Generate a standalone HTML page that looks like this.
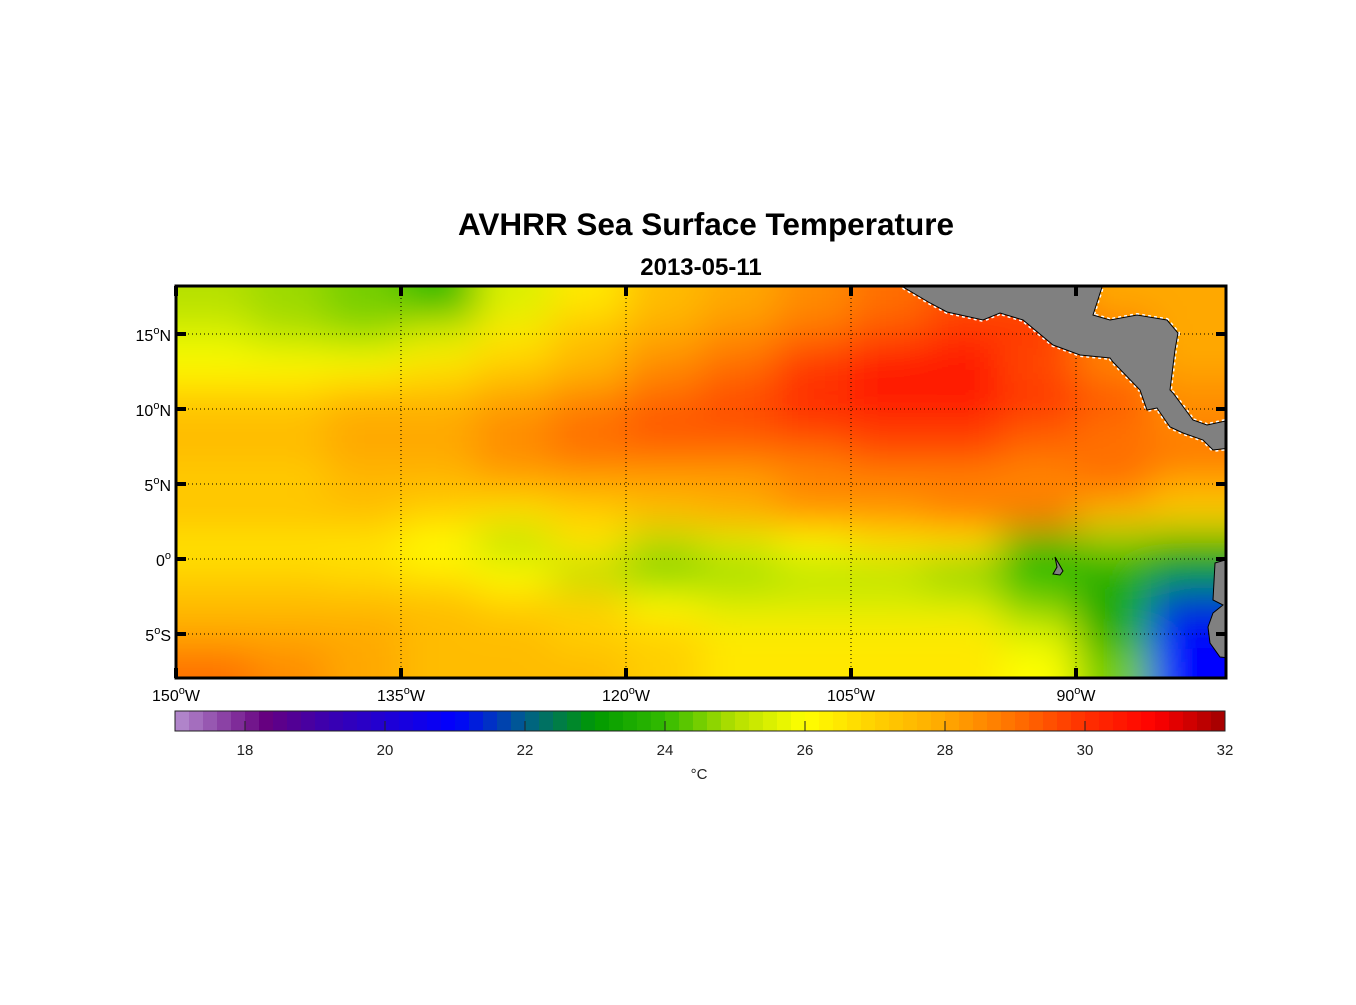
<!DOCTYPE html>
<html><head><meta charset="utf-8"><style>
body{margin:0;background:#fff;width:1356px;height:1000px;overflow:hidden;font-family:"Liberation Sans",sans-serif;}
svg text{font-family:"Liberation Sans",sans-serif;}
</style></head><body>
<svg id="chart" width="1356" height="1000" xmlns="http://www.w3.org/2000/svg">
<defs>
<clipPath id="mapclip"><rect x="176" y="287" width="1050" height="391"/></clipPath>
<filter id="blur" x="-0.1" y="-0.1" width="1.2" height="1.2"><feGaussianBlur stdDeviation="20"/></filter>
</defs>
<text x="706" y="235" text-anchor="middle" font-size="31.5" font-weight="bold">AVHRR Sea Surface Temperature</text>
<text x="701" y="275" text-anchor="middle" font-size="24" font-weight="bold">2013-05-11</text>
<g id="map" clip-path="url(#mapclip)">
<g id="heat" filter="url(#blur)"></g>
<g id="grid"></g>
<g fill="#808080" stroke="#000" stroke-width="1">
<path stroke="#fff" stroke-width="4" stroke-dasharray="3 3" d="M898,284 L930,303 L947,312 L983,320 L1000,313 L1023,320 L1053,345 L1080,355 L1110,358 L1113,362 L1140,390 L1147,410 L1157,408 L1170,427 L1183,433 L1203,440 L1213,450 L1230,448 L1230,420 L1207,425 L1193,420 L1173,393 L1170,390 L1175,350 L1178,333 L1167,320 L1137,315 L1110,320 L1093,315 L1103,284 Z"/>
<path d="M898,284 L930,303 L947,312 L983,320 L1000,313 L1023,320 L1053,345 L1080,355 L1110,358 L1113,362 L1140,390 L1147,410 L1157,408 L1170,427 L1183,433 L1203,440 L1213,450 L1230,448 L1230,420 L1207,425 L1193,420 L1173,393 L1170,390 L1175,350 L1178,333 L1167,320 L1137,315 L1110,320 L1093,315 L1103,284 Z"/>
<path d="M1230,558 L1225,560 L1215,563 L1213,600 L1223,605 L1213,613 L1208,627 L1210,643 L1220,657 L1230,658 Z"/>
<path d="M1055,557 L1063,571 L1060,575 L1053,574 L1057,567 Z"/>
</g>
</g>
<rect x="176" y="286" width="1050" height="392" fill="none" stroke="#000" stroke-width="3"/>
<g id="ticks"></g>
<g id="cbar"></g>
<text x="699" y="779" text-anchor="middle" font-size="15" fill="#222">°C</text>
</svg>
<script>
const lonCenters=[-147.5,-142.5,-137.5,-132.5,-127.5,-122.5,-117.5,-112.5,-107.5,-102.5,-97.5,-92.5,-87.5,-82.5];
const latCenters=[17,15,13,11,9,7,5,3,1,-1,-3,-5,-7];
const sstRows=[
[25,24.8,24.5,24,25.5,26.5,27.5,28,28.5,29,29.5,29.5,28,28],
[25.5,25,24.8,25.5,26.5,27.5,28,28.5,29,29.5,30,30,29,28],
[26,26,26,26.5,27,27.5,28.5,29,30,30.5,30.5,29.5,28.5,28],
[27,27,27.5,27.5,28,28.5,29,29.5,30,30.5,30.5,30,29.5,28.5],
[27.5,27.5,28,28,28.5,29,29.5,29.5,30,30,30,29.5,29,28.5],
[27.5,27.5,28,28,28.5,29,29,29,29,29.5,29.5,29,29,29],
[27,27,27.5,27.5,28,28,28,28,28.5,28.5,28.5,28.5,29,28],
[27.5,27.5,27.5,27,26.5,27,27.5,28,28.5,28.5,29,29,27.5,27],
[26.5,26.5,26.5,26,25,26.5,25,25.5,26,26.5,26.5,24,24.5,24],
[27,27,26.8,26.5,26,25,24.5,24.8,25,25,24.5,24,23.5,23],
[27.5,27.5,27.5,27.5,27,27,26,25.5,25.5,25.5,25.5,24.5,23.5,21.5],
[28,28,28,27.5,27.5,27,27,26.5,26.5,26.5,26.5,25.5,23.5,21],
[29,28.5,28,27.5,27.5,27.5,27,26.5,26.5,26.5,26.5,26,24.5,21]
];
const lonTicks=[-150,-135,-120,-105,-90];
const lonTickLabels=["150","135","120","105","90"];
const latTicks=[15,10,5,0,-5];
const latTickLabels=["15","10","5","0","5"];
const latTickSuffix=["N","N","N","","S"];
const cbarTicks=[18,20,22,24,26,28,30,32];
const cmapStops=[[17,"#b68fd0"],[18.3,"#660080"],[19.2,"#3a00b0"],[21,"#0000ff"],[22,"#005f8c"],[23,"#009a00"],[24,"#33bb00"],[25,"#b5e000"],[26,"#ffff00"],[27,"#ffd000"],[28,"#ffa800"],[29,"#ff7000"],[30,"#ff3000"],[31,"#ff0000"],[32,"#a00000"]];
const NS="http://www.w3.org/2000/svg";
const X=lon=>176+(lon+150)*15, Y=lat=>559-lat*15;
function hex(h){return [1,3,5].map(i=>parseInt(h.substr(i,2),16));}
function color(v){
  if(v<=cmapStops[0][0])return cmapStops[0][1];
  for(let i=1;i<cmapStops.length;i++){if(v<=cmapStops[i][0]){const a=cmapStops[i-1],b=cmapStops[i],t=(v-a[0])/(b[0]-a[0]);const ca=hex(a[1]),cb=hex(b[1]);return "rgb("+ca.map((c,k)=>Math.round(c+(cb[k]-c)*t)).join(",")+")";}}
  return cmapStops[cmapStops.length-1][1];
}
function el(tag,attrs,parent){const e=document.createElementNS(NS,tag);for(const k in attrs)e.setAttribute(k,attrs[k]);parent.appendChild(e);return e;}
const heat=document.getElementById('heat');
const nR=sstRows.length,nC=lonCenters.length,pad=80;
sstRows.forEach((row,r)=>row.forEach((v,c)=>{
  let x0=X(lonCenters[c]-2.5),x1=X(lonCenters[c]+2.5),y0=Y(latCenters[r]+1),y1=Y(latCenters[r]-1);
  if(c===0)x0-=pad; if(c===nC-1)x1+=pad; if(r===0)y0-=pad; if(r===nR-1)y1+=pad;
  const rc=el('rect',{x:x0,y:y0,width:x1-x0+0.5,height:y1-y0+0.5,fill:color(v)},heat);
  
  
}));
const grid=document.getElementById('grid'),ticks=document.getElementById('ticks');
lonTicks.forEach((lon,i)=>{
  const l=el('line',{x1:X(lon),x2:X(lon),y1:286,y2:678,stroke:"#000","stroke-width":1,"stroke-dasharray":"1 3"},grid);
  
  
  const t1=el('rect',{x:X(lon)-2,y:286,width:4,height:10,fill:"#000"},ticks);
  
  
  const t2=el('rect',{x:X(lon)-2,y:668,width:4,height:10,fill:"#000"},ticks);
  
  
  const tx=el('text',{x:X(lon),y:701,"text-anchor":"middle","font-size":16},ticks);
  
  
  tx.innerHTML=lonTickLabels[i]+'<tspan dy="-7" font-size="11">o</tspan><tspan dy="7">W</tspan>';
});
latTicks.forEach((lat,i)=>{
  const l=el('line',{x1:176,x2:1226,y1:Y(lat),y2:Y(lat),stroke:"#000","stroke-width":1,"stroke-dasharray":"1 3"},grid);
  
  
  const t1=el('rect',{x:176,y:Y(lat)-2,width:10,height:4,fill:"#000"},ticks);
  
  
  const t2=el('rect',{x:1216,y:Y(lat)-2,width:10,height:4,fill:"#000"},ticks);
  
  
  const tx=el('text',{x:171,y:Y(lat)+7,"text-anchor":"end","font-size":16},ticks);
  
  
  tx.innerHTML=latTickLabels[i]+'<tspan dy="-7" font-size="11">o</tspan><tspan dy="7">'+latTickSuffix[i]+'</tspan>';
});
const cbar=document.getElementById('cbar');
const CX=v=>175+(v-17)*70;
for(let i=0;i<75;i++){
  const v=17+i*0.2;
  const r=el('rect',{x:CX(v),y:711,width:14.5,height:20,fill:color(v+0.1)},cbar);
  
  
}
const fr=el('rect',{x:175,y:711,width:1050,height:20,fill:"none",stroke:"#222","stroke-width":1},cbar);


cbarTicks.forEach(v=>{
  const t=el('line',{x1:CX(v),x2:CX(v),y1:721,y2:731,stroke:"#222","stroke-width":1},cbar);
  
  
  const tx=el('text',{x:CX(v),y:755,"text-anchor":"middle","font-size":15,fill:"#222"},cbar);
  
  
  tx.textContent=v;
});
</script>
</body></html>
